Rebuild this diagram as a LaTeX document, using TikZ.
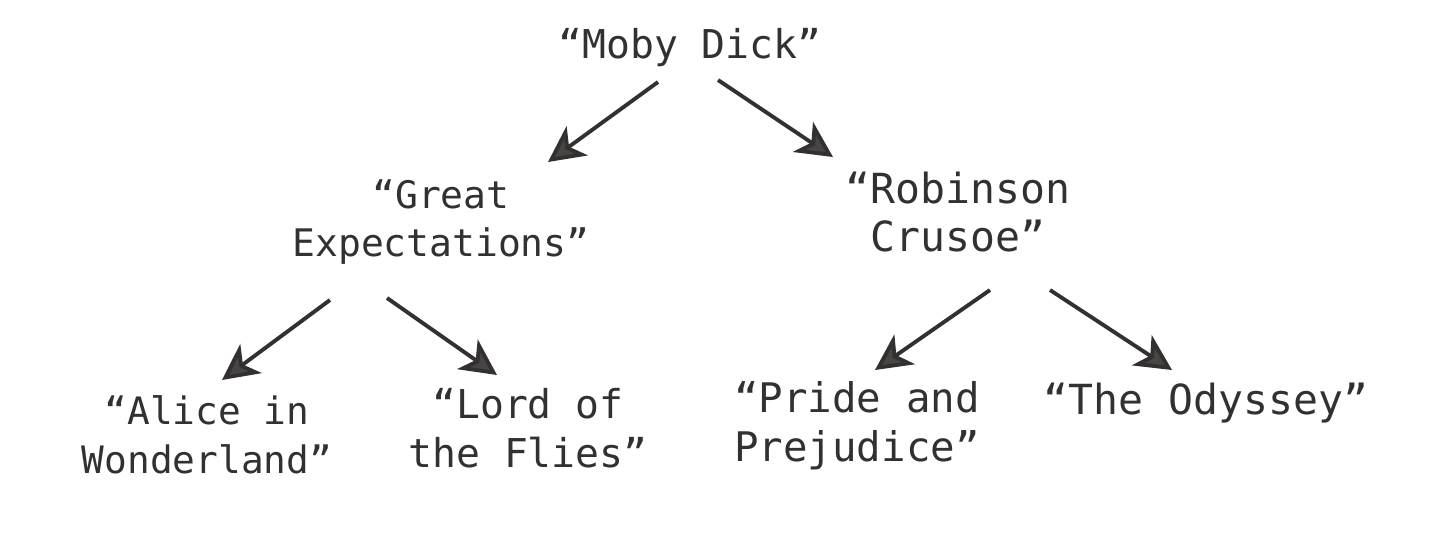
\documentclass[tikz,border=0pt]{standalone}
\usepackage{fontspec}
\setmonofont{DejaVu Sans Mono}
\usepackage{xcolor}
\usepackage{tikz}
\usetikzlibrary{arrows.meta,positioning}
\definecolor{inkgray}{HTML}{333030}
\definecolor{tipgray}{HTML}{4A4545}

\begin{document}
\begin{tikzpicture}[
  book/.style={font=\ttfamily\fontsize{#1}{13.9}\selectfont,text=inkgray,align=center,inner sep=0pt},
  book/.default=11,
  link/.style={line width=1.1pt,draw=inkgray,-{Stealth[length=3.6mm,width=3.6mm,inset=1mm,fill=tipgray]}}]
  \useasboundingbox (0,0) rectangle (14.4,5.5);
  % nodes
  \node[book=11.3] (moby) at (6.9,5.02) {“Moby Dick”};
  \node[book=10.8] (great) at (4.41,3.28) {“Great\\Expectations”};
  \node[book=11.8] (robinson) at (9.58,3.38) {“Robinson\\Crusoe”};
  \node[book=10.75] (alice) at (2.07,1.15) {“Alice in\\Wonderland”};
  \node[book=11.3] (lord) at (5.28,1.22) {“Lord of\\the Flies”};
  \node[book=11.6] (pride) at (8.57,1.24) {“Pride and\\Prejudice”};
  \node[book=11.8] (odyssey) at (12.06,1.47) {“The Odyssey”};
  % links
  \draw[link] ([shift={(-0.32,-0.34)}]moby.center) -- ([shift={(1.07,0.60)}]great.center);
  \draw[link] ([shift={(0.28,-0.32)}]moby.center) -- ([shift={(-1.25,0.55)}]robinson.center);
  \draw[link] ([shift={(-1.11,-0.78)}]great.center) -- ([shift={(0.15,0.55)}]alice.center);
  \draw[link] ([shift={(-0.54,-0.76)}]great.center) -- ([shift={(-0.31,0.53)}]lord.center);
  \draw[link] ([shift={(0.32,-0.78)}]robinson.center) -- ([shift={(0.18,0.56)}]pride.center);
  \draw[link] ([shift={(0.92,-0.78)}]robinson.center) -- ([shift={(-0.34,0.33)}]odyssey.center);
\end{tikzpicture}
\end{document}
